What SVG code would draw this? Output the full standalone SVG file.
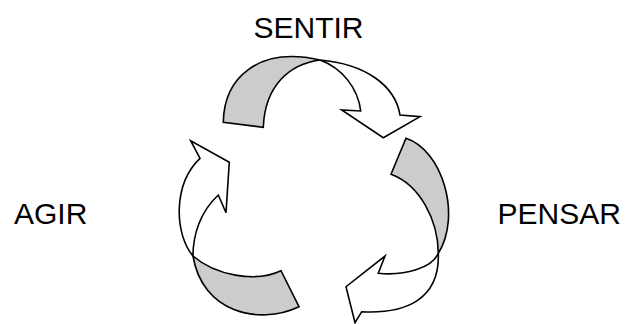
<svg xmlns="http://www.w3.org/2000/svg" width="630" height="324" viewBox="0 0 630 324">
  <style>
    .band { fill: #cccccc; stroke: #000000; stroke-width: 1.6; stroke-linejoin: miter; }
    .head { fill: #ffffff; stroke: #000000; stroke-width: 1.6; stroke-linejoin: miter; }
    .label { font-family: "Liberation Sans", Arial, sans-serif; font-size: 30px; fill: #000000; }
  </style>
  <rect width="630" height="324" fill="#ffffff"/>
  <g id="connectors">
    <g id="arrow-sentir-pensar">
      <path class="band" d="M223.3,122.3 C224,78 258,46 320,60 C290,64 265,85 263.3,127.3 Z"/>
      <path class="head" d="M320,60 C365,64 395,85 400,115 L420,116.7 L383.3,137.7 L341.7,110 L360.7,111 C358,88 342,68 320,60 Z"/>
    </g>
    <g id="arrow-pensar-agir">
      <path class="band" d="M391,174.3 L406,138.3 C442,150 462,215 438.3,253.3 C438,220 420,185 391,174.3 Z"/>
      <path class="head" d="M438.3,253.3 C432,268 405,276 378.3,273.3 L385,256 L346,286.7 L355,322.7 L361.7,311.7 C405,314 440,300 438.3,253.3 Z"/>
    </g>
    <g id="arrow-agir-sentir">
      <path class="band" d="M193,256 C215,275 255,283 281,270.7 L299,306.7 C258,326 202,312 193,256 Z"/>
      <path class="head" d="M193,256 C175,235 172,185 200,158.3 L190.7,140.7 L229.3,162.3 L226,212.7 L218.3,195 C200,212 193,235 193,256 Z"/>
    </g>
  </g>
  <g id="node-sentir"><text class="label" x="253.5" y="38">SENTIR</text></g>
  <g id="node-agir"><text class="label" x="14" y="224">AGIR</text></g>
  <g id="node-pensar"><text class="label" x="497.5" y="224">PENSAR</text></g>
</svg>
